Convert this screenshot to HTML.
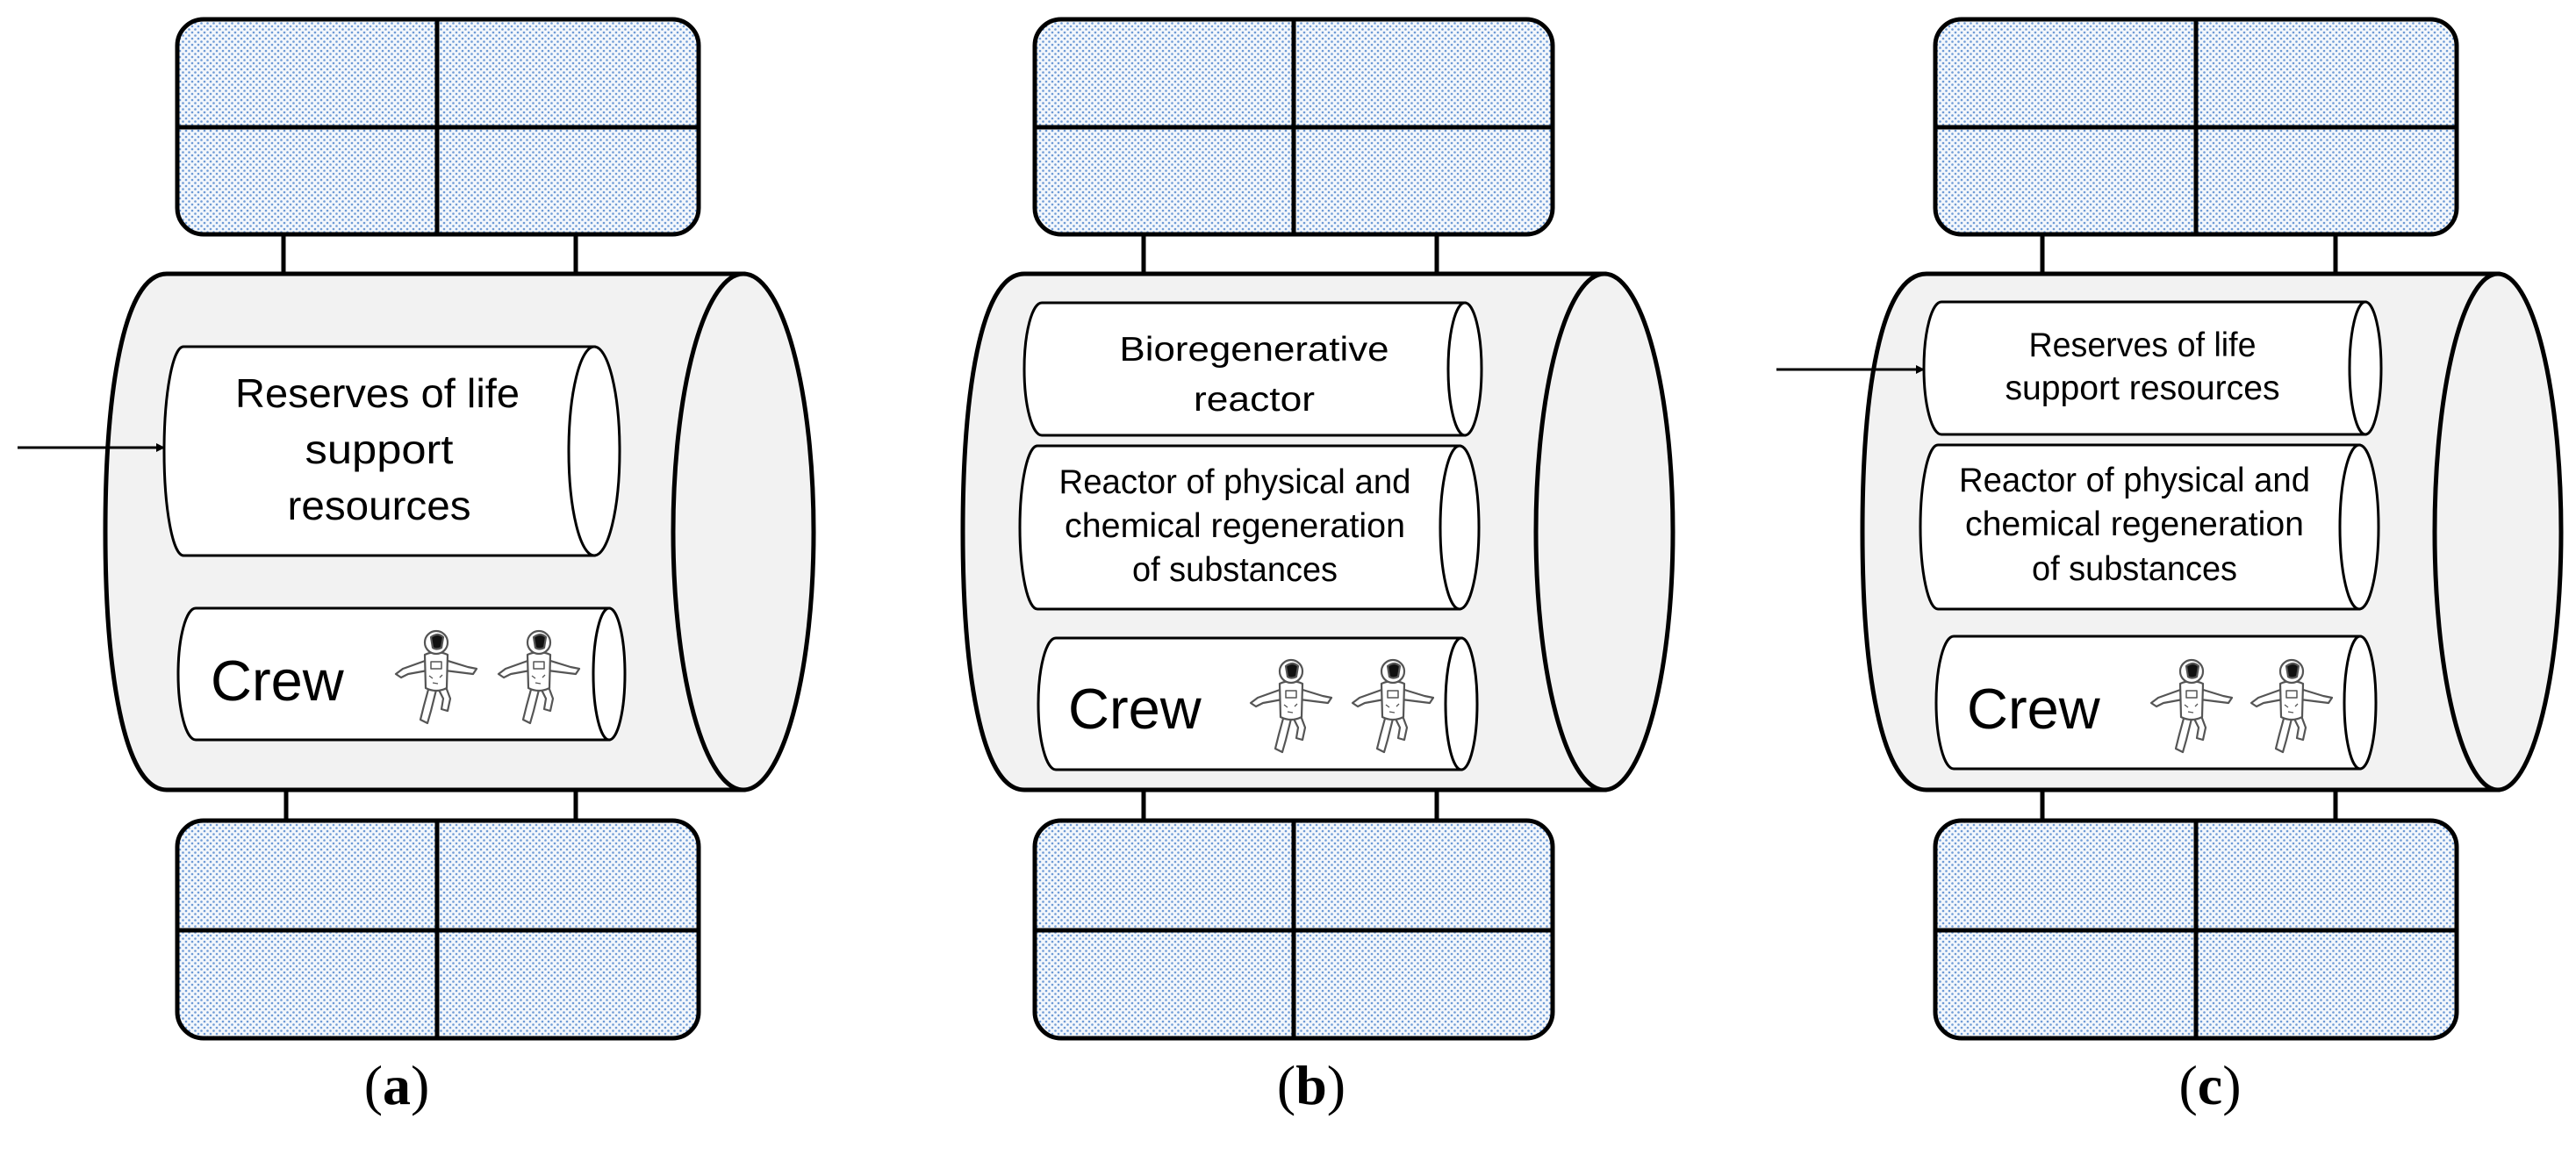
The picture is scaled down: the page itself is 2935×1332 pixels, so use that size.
<!DOCTYPE html>
<html><head><meta charset="utf-8"><style>
html,body{margin:0;padding:0;background:#fff;}
svg{display:block;}
text{font-family:"Liberation Sans",sans-serif;fill:#000;}
.lbl{font-family:"Liberation Serif",serif;font-size:64px;}
</style></head><body>
<svg width="2935" height="1332" viewBox="0 0 2935 1332" xmlns="http://www.w3.org/2000/svg">
<defs>
<pattern id="dots" width="7" height="7" patternUnits="userSpaceOnUse">
<rect width="7" height="7" fill="#f3f7fc"/>
<circle cx="2" cy="2" r="1.3" fill="#6f9bd6"/>
<circle cx="5.5" cy="5.5" r="1.3" fill="#6f9bd6"/>
</pattern>
<marker id="ah" markerWidth="10" markerHeight="10" refX="9" refY="5" orient="auto" markerUnits="userSpaceOnUse">
<path d="M0,0 L10,5 L0,10 z" fill="#000"/>
</marker>
<symbol id="astro" viewBox="0 0 100 117">
<g fill="#fff" stroke="#555" stroke-width="2.2" stroke-linejoin="round">
<path d="M40,40 L12,50 L4,56 L10,60 L18,56 L40,52 z"/>
<path d="M60,40 L86,48 L96,50 L92,56 L84,55 L60,52 z"/>
<path d="M42,70 L36,92 L32,108 L40,112 L44,98 L50,74 z"/>
<path d="M52,72 L58,84 L56,96 L63,98 L66,84 L60,68 z"/>
<path d="M37,34 Q50,28 63,34 L62,72 Q50,78 38,72 z"/>
<circle cx="50" cy="20" r="13"/>
<path d="M44,14 Q52,8 58,14 L56,26 Q50,29 46,26 z" fill="#111"/>
<rect x="44" y="42" width="12" height="8" fill="none" stroke-width="1.5"/>
<path d="M42,58 l4,3 M54,60 l3,-3 M46,66 l6,1" stroke-width="1.3"/>
</g>
</symbol>
</defs>

<!-- ============ PANEL A ============ -->
<g stroke="#000" stroke-width="5">
<line x1="323" y1="267" x2="323" y2="312"/><line x1="656" y1="267" x2="656" y2="312"/>
<line x1="326" y1="898" x2="326" y2="935"/><line x1="656" y1="898" x2="656" y2="935"/>
<rect x="202" y="22" width="594" height="245" rx="30" fill="url(#dots)"/>
<line x1="202" y1="145" x2="796" y2="145"/><line x1="498" y1="22" x2="498" y2="267"/>
<rect x="202" y="935" width="594" height="248" rx="30" fill="url(#dots)"/>
<line x1="202" y1="1060" x2="796" y2="1060"/><line x1="498" y1="935" x2="498" y2="1183"/>
<path d="M847,312 L190,312 C140,312 120,450 120,606 C120,760 140,900 190,900 L847,900 z" fill="#f2f2f2"/>
<ellipse cx="847" cy="606" rx="80" ry="294" fill="#f2f2f2"/>
</g>
<g stroke="#000" stroke-width="3" fill="#fff">
<path d="M677,395 L209,395 A22 119 0 0 0 209,633 L677,633 z"/>
<ellipse cx="677" cy="514" rx="29" ry="119"/>
<path d="M694,693 L223,693 A20 75 0 0 0 223,843 L694,843 z"/>
<ellipse cx="694" cy="768" rx="18" ry="75"/>
</g>
<line x1="20" y1="510" x2="187" y2="510" stroke="#000" stroke-width="3" marker-end="url(#ah)"/>
<g font-size="46" text-anchor="middle">
<text x="430" y="464" textLength="324" lengthAdjust="spacingAndGlyphs">Reserves of life</text>
<text x="432" y="528" textLength="169" lengthAdjust="spacingAndGlyphs">support</text>
<text x="432" y="592" textLength="209" lengthAdjust="spacingAndGlyphs">resources</text>
</g>
<text x="240" y="798" font-size="65">Crew</text>
<use href="#astro" x="446" y="712" width="102" height="117"/>
<use href="#astro" x="563" y="712" width="102" height="117"/>
<text class="lbl" x="452" y="1258" text-anchor="middle">(<tspan font-weight="bold">a</tspan>)</text>

<!-- ============ PANEL B ============ -->
<g stroke="#000" stroke-width="5">
<line x1="1303" y1="267" x2="1303" y2="312"/><line x1="1637" y1="267" x2="1637" y2="312"/>
<line x1="1303" y1="898" x2="1303" y2="935"/><line x1="1637" y1="898" x2="1637" y2="935"/>
<rect x="1179" y="22" width="590" height="245" rx="30" fill="url(#dots)"/>
<line x1="1179" y1="145" x2="1769" y2="145"/><line x1="1474" y1="22" x2="1474" y2="267"/>
<rect x="1179" y="935" width="590" height="248" rx="30" fill="url(#dots)"/>
<line x1="1179" y1="1060" x2="1769" y2="1060"/><line x1="1474" y1="935" x2="1474" y2="1183"/>
<path d="M1828,312 L1167,312 C1117,312 1097,450 1097,606 C1097,760 1117,900 1167,900 L1828,900 z" fill="#f2f2f2"/>
<ellipse cx="1828" cy="606" rx="78" ry="294" fill="#f2f2f2"/>
</g>
<g stroke="#000" stroke-width="3" fill="#fff">
<path d="M1669,345 L1187,345 A20 75.5 0 0 0 1187,496 L1669,496 z"/>
<ellipse cx="1669" cy="420.5" rx="19" ry="75.5"/>
<path d="M1663,508 L1182,508 A20 93 0 0 0 1182,694 L1663,694 z"/>
<ellipse cx="1663" cy="601" rx="22" ry="93"/>
<path d="M1665,727 L1203,727 A20 75 0 0 0 1203,877 L1665,877 z"/>
<ellipse cx="1665" cy="802" rx="18" ry="75"/>
</g>
<g font-size="39" text-anchor="middle">
<text x="1429" y="411" textLength="307" lengthAdjust="spacingAndGlyphs">Bioregenerative</text>
<text x="1429" y="468" textLength="138" lengthAdjust="spacingAndGlyphs">reactor</text>
<text x="1407" y="562" textLength="401" lengthAdjust="spacingAndGlyphs">Reactor of physical and</text>
<text x="1407" y="612" textLength="388" lengthAdjust="spacingAndGlyphs">chemical regeneration</text>
<text x="1407" y="662" textLength="234" lengthAdjust="spacingAndGlyphs">of substances</text>
</g>
<text x="1217" y="830" font-size="65">Crew</text>
<use href="#astro" x="1420" y="745" width="102" height="117"/>
<use href="#astro" x="1536" y="745" width="102" height="117"/>
<text class="lbl" x="1494" y="1258" text-anchor="middle">(<tspan font-weight="bold">b</tspan>)</text>

<!-- ============ PANEL C ============ -->
<g stroke="#000" stroke-width="5">
<line x1="2327" y1="267" x2="2327" y2="312"/><line x1="2661" y1="267" x2="2661" y2="312"/>
<line x1="2327" y1="898" x2="2327" y2="935"/><line x1="2661" y1="898" x2="2661" y2="935"/>
<rect x="2205" y="22" width="594" height="245" rx="30" fill="url(#dots)"/>
<line x1="2205" y1="145" x2="2799" y2="145"/><line x1="2502" y1="22" x2="2502" y2="267"/>
<rect x="2205" y="935" width="594" height="248" rx="30" fill="url(#dots)"/>
<line x1="2205" y1="1060" x2="2799" y2="1060"/><line x1="2502" y1="935" x2="2502" y2="1183"/>
<path d="M2846,312 L2195,312 C2142,312 2122,450 2122,606 C2122,760 2142,900 2195,900 L2846,900 z" fill="#f2f2f2"/>
<ellipse cx="2846" cy="606" rx="72" ry="294" fill="#f2f2f2"/>
</g>
<g stroke="#000" stroke-width="3" fill="#fff">
<path d="M2695,344 L2212,344 A20 75.5 0 0 0 2212,495 L2695,495 z"/>
<ellipse cx="2695" cy="419.5" rx="18" ry="75.5"/>
<path d="M2688,507 L2208,507 A20 93.5 0 0 0 2208,694 L2688,694 z"/>
<ellipse cx="2688" cy="600.5" rx="22" ry="93.5"/>
<path d="M2689,725 L2226,725 A20 75.5 0 0 0 2226,876 L2689,876 z"/>
<ellipse cx="2689" cy="800.5" rx="18" ry="75.5"/>
</g>
<line x1="2024" y1="421" x2="2192" y2="421" stroke="#000" stroke-width="3" marker-end="url(#ah)"/>
<g font-size="39" text-anchor="middle">
<text x="2441" y="406" textLength="259" lengthAdjust="spacingAndGlyphs">Reserves of life</text>
<text x="2441" y="455" textLength="313" lengthAdjust="spacingAndGlyphs">support resources</text>
<text x="2432" y="560" textLength="400" lengthAdjust="spacingAndGlyphs">Reactor of physical and</text>
<text x="2432" y="610" textLength="386" lengthAdjust="spacingAndGlyphs">chemical regeneration</text>
<text x="2432" y="661" textLength="234" lengthAdjust="spacingAndGlyphs">of substances</text>
</g>
<text x="2241" y="830" font-size="65">Crew</text>
<use href="#astro" x="2446" y="745" width="102" height="117"/>
<use href="#astro" x="2560" y="745" width="102" height="117"/>
<text class="lbl" x="2518" y="1258" text-anchor="middle">(<tspan font-weight="bold">c</tspan>)</text>
</svg>
</body></html>
